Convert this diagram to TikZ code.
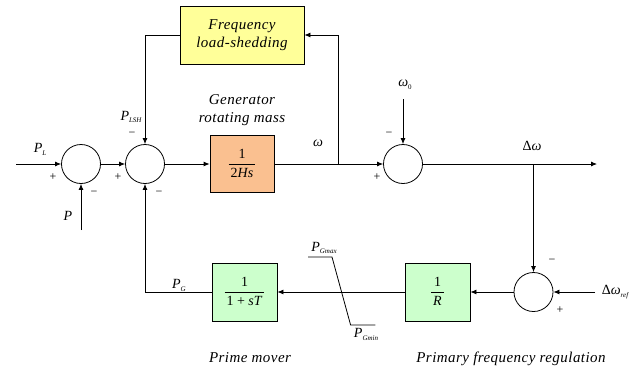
\documentclass[tikz,border=0pt]{standalone}
\usepackage{fontspec}
\setmainfont{Liberation Serif}
\usetikzlibrary{arrows.meta}
\newcommand\myfr[2]{{\renewcommand\arraystretch{1.15}\begin{tabular}{@{\hspace{2pt}}c@{\hspace{2pt}}}#1\\\hline #2\end{tabular}}}
\newcommand\sbs[1]{\raisebox{-0.45ex}{\fontsize{7}{7}\selectfont\itshape #1}}
\definecolor{fyellow}{HTML}{FFFF99}
\definecolor{forange}{HTML}{FAC090}
\definecolor{fgreen}{HTML}{CCFFCC}
\begin{document}
\begin{tikzpicture}[x=1pt,y=-1pt,
  ln/.style={line width=0.8pt},
  arr/.style={ln,-{Latex[length=6pt,width=5pt]}},
  blk/.style={draw,line width=0.8pt,inner sep=0pt,font=\fontsize{14}{16}\selectfont},
  sumc/.style={circle,draw,line width=0.8pt,minimum size=39pt,inner sep=0pt},
  lbl/.style={font=\fontsize{15}{18}\selectfont\itshape\addfontfeature{LetterSpace=3},align=center,inner sep=0pt},
  sym/.style={font=\fontsize{14}{16}\selectfont,inner sep=0pt},
  sgn/.style={font=\fontsize{12}{12}\selectfont,inner sep=0pt}]
\useasboundingbox (0,0) rectangle (640,367);
% blocks
\node[blk,fill=fyellow,minimum width=124pt,minimum height=58pt,lbl] (fls) at (242,35) {Frequency\\load-shedding};
\node[blk,fill=forange,minimum width=64pt,minimum height=57pt] (gen) at (242,164) {\myfr{1}{2\textit{Hs}}};
\node[blk,fill=fgreen,minimum width=65pt,minimum height=58pt] (pm) at (244.5,292) {\myfr{1}{1 + \textit{sT}}};
\node[blk,fill=fgreen,minimum width=65pt,minimum height=58pt] (rr) at (437.5,292) {\myfr{1}{\textit{R}}};
% summing junctions
\node[sumc] (c1) at (81,164) {};
\node[sumc] (c2) at (145,164) {};
\node[sumc] (c3) at (403,164) {};
\node[sumc] (c4) at (533.5,292) {};
% free ends
\coordinate (inL) at (16,164);
\coordinate (inP) at (81,230);
\coordinate (br1) at (338,164);
\coordinate (w0) at (403,99);
\coordinate (out) at (597,164);
\coordinate (br2) at (533.5,164);
\coordinate (wref) at (595,292);
% connectors
\draw[arr] (inL) -- (c1.west);
\draw[arr] (inP) -- (c1.south);
\draw[arr] (c1.east) -- (c2.west);
\draw[arr] (c2.east) -- (gen.west);
\draw[arr] (gen.east) -- (c3.west);
\draw[arr] (br1) -- (338,35) -- (fls.east);
\draw[arr] (fls.west) -| (c2.north);
\draw[arr] (w0) -- (c3.north);
\draw[arr] (c3.east) -- (out);
\draw[arr] (br2) -- (c4.north);
\draw[arr] (wref) -- (c4.east);
\draw[arr] (c4.west) -- (rr.east);
\draw[arr] (rr.west) -- (pm.east);
\draw[arr] (pm.west) -| (c2.south);
% saturation
\draw[ln] (308,257) -- (332,257) -- (350.6,325) -- (375.4,325);
% labels
\node[lbl] (tgen) at (242,110) {Generator\\rotating mass};
\node[lbl,anchor=base] (tpm) at (250,362) {Prime mover};
\node[lbl,anchor=base] (tpfr) at (511,362) {Primary frequency regulation};
\node[sym] (lPL) at (40,149) {\textit{P}\sbs{L}};
\node[sym] (lP) at (68,216) {\textit{P}};
\node[sym] (lPLSH) at (131,117) {\textit{P}\sbs{LSH}};
\node[sym] (lw) at (318,143) {\textit{ω}};
\node[sym] (lw0) at (405,85) {\textit{ω}\sbs{\upshape 0}};
\node[sym] (ldw) at (532,146) {Δ\textit{ω}};
\node[sym] (ldwr) at (615,292) {Δ\textit{ω}\sbs{ref}};
\node[sym] (lPG) at (179,285) {\textit{P}\sbs{G}};
\node[sym] (lPGmax) at (324,248) {\textit{P}\sbs{Gmax}};
\node[sym] (lPGmin) at (366,334) {\textit{P}\sbs{Gmin}};
% signs
\node[sgn] (s1) at (53,177) {+};
\node[sgn] (s2) at (94,193) {−};
\node[sgn] (s3) at (118,177) {+};
\node[sgn] (s4) at (159,193) {−};
\node[sgn] (s5) at (132,134) {−};
\node[sgn] (s6) at (389,134) {−};
\node[sgn] (s7) at (377,177) {+};
\node[sgn] (s8) at (552,261) {−};
\node[sgn] (s9) at (560,310) {+};
\end{tikzpicture}
\end{document}
